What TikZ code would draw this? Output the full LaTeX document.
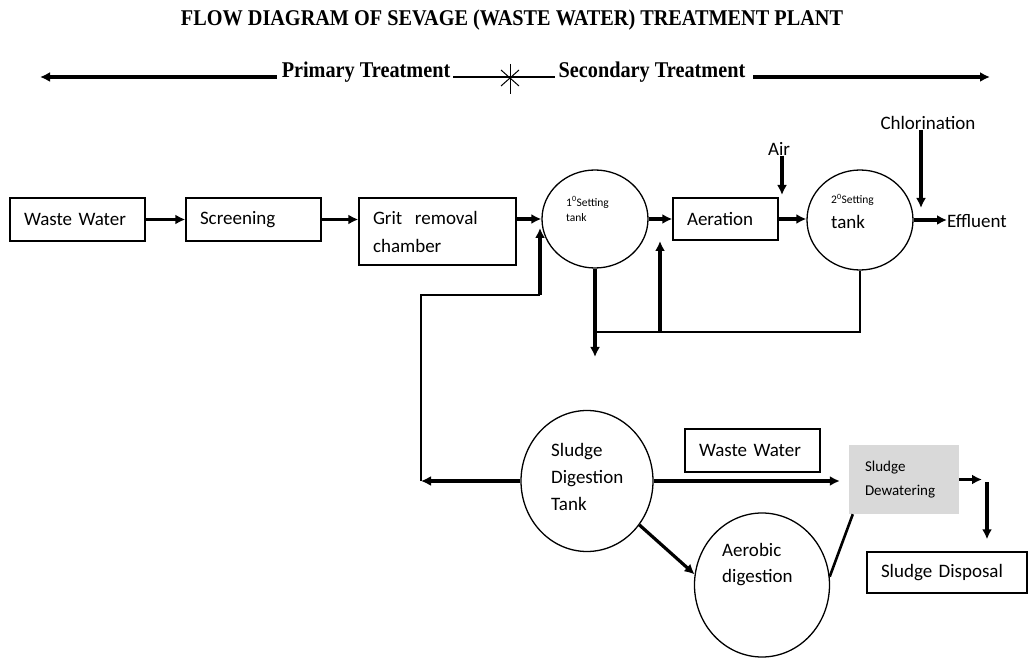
\documentclass[tikz,border=0pt]{standalone}
\usepackage{fontspec}
\setmainfont{Carlito}
\newfontfamily\headfont{Liberation Serif}
\usetikzlibrary{arrows.meta,shapes.geometric,calc}

\begin{document}
\begin{tikzpicture}[x=1pt,y=-1pt,
  lbox/.style={draw, line width=1.4pt, inner xsep=14pt, inner ysep=0pt, align=left,
    font=\fontsize{19}{28}\selectfont},
  tankshape/.style={draw, ellipse, line width=1.3pt, inner sep=0pt},
  txt/.style={inner sep=0pt, align=left, font=\fontsize{19}{27}\selectfont},
  smalltxt/.style={inner sep=0pt, align=left, font=\fontsize{11.5}{15}\selectfont},
  headtext/.style={inner sep=0pt, xscale=0.9, font=\headfont\bfseries\fontsize{22.5}{26}\selectfont},
  flow/.style={line width=3.2pt, -{Latex[length=10pt,width=10pt]}},
  pipe/.style={line width=1.5pt}
]
\useasboundingbox (0,0) rectangle (1029,660);

% heading and treatment stages
\node[headtext] (title) at (512,20) {FLOW DIAGRAM OF SEVAGE (WASTE WATER) TREATMENT PLANT};
\node[headtext] (prim) at (366,72) {Primary Treatment};
\node[headtext] (sec) at (652,72) {Secondary Treatment};
\coordinate (lefttip) at (40,77);
\coordinate (righttip) at (990,77);
\coordinate (star) at (510,79);
\draw[flow, shorten <=5pt] (prim.west |- lefttip) -- (lefttip);
\draw[flow, shorten <=8pt] (sec.east |- righttip) -- (righttip);
\draw[pipe] ($(prim.east |- star)+(3,-2)$) -- ($(sec.west |- star)+(-4,-2)$);
\draw[line width=1pt] (star) ++(0,-15) -- ++(0,30);
\draw[line width=1pt] (star) ++(-9,-9) -- ++(18,16);
\draw[line width=1pt] (star) ++(-9,7) -- ++(18,-16);

% main treatment line
\node[lbox, text width=107pt, minimum height=43pt] (ww) at (77.5,219.5) {Waste Water};
\node[lbox, text width=107pt, minimum height=43pt] (scr) at (253.5,219.5) {Screening};
\node[lbox, text width=129pt, minimum height=67pt] (grit) at (437.5,231.5) {Grit\ \ removal\\chamber};
\node[tankshape, minimum width=106pt, minimum height=98pt] (c1) at (595,219) {};
\node[smalltxt, anchor=west] (c1t) at (566,209) {1\textsuperscript{0}Setting\\tank};
\node[lbox, text width=77pt, minimum height=42pt] (aer) at (725.5,219) {Aeration};
\node[tankshape, minimum width=106pt, minimum height=100pt] (c2) at (860,220) {};
\node[smalltxt, anchor=west] (c2t) at (831,200) {2\textsuperscript{0}Setting};
\node[txt, anchor=west] (c2u) at (831,222) {tank};
\node[txt, anchor=west] (eff) at (947,221) {Effluent};
\node[txt] (air) at (779,149) {Air};
\node[txt] (chl) at (928,123) {Chlorination};

\draw[flow] (ww.east) -- (scr.west);
\draw[flow] (scr.east) -- (scr.east -| grit.west);
\draw[flow] (c1.west -| grit.east) -- (c1.west);
\draw[flow] (c1.east) -- (c1.east -| aer.west);
\draw[flow] (aer.east) -- (aer.east -| c2.west);
\draw[flow] (c2.east) -- (c2.east -| eff.west);
\coordinate (airtip) at (782,195);
\draw[flow] (air.south -| airtip) -- (airtip);
\coordinate (cltip) at (921,208);
\draw[flow] (chl.south -| cltip) -- (cltip);

% sludge withdrawal and return
\coordinate (sludgeout) at (593,357);
\coordinate (rasjoin) at (660,332);
\coordinate (rastip) at (660,241);
\draw[flow] (c1.south) -- (c1.south |- sludgeout);
\draw[pipe] (c2.south) |- ($(c1.south |- rasjoin)+(2,0)$);
\draw[flow] (rasjoin) -- (rastip);

% sludge line
\node[tankshape, minimum width=132pt, minimum height=141pt] (sdt) at (587,481) {};
\node[txt, anchor=west] (sdtt) at (551,477) {Sludge\\Digestion\\Tank};
\node[tankshape, minimum width=135pt, minimum height=144pt] (aero) at (762,585) {};
\node[txt, anchor=west, font=\fontsize{19}{26}\selectfont] (aerot) at (722,565) {Aerobic\\digestion};
\node[lbox, text width=107pt, minimum height=43pt] (ww2) at (752.5,450.5) {Waste Water};
\node[draw=none, fill=black!15, inner xsep=16pt, inner ysep=0pt, text width=78pt,
  minimum height=69pt, align=left, font=\fontsize{15}{24}\selectfont] (dew) at (904,479.5) {Sludge\\Dewatering};
\node[lbox, text width=132pt, minimum height=41pt] (disp) at (947,572.5) {Sludge Disposal};

\coordinate (loopcorner) at (421,481);
\coordinate (loopturn) at (421,295);
\coordinate (loopup) at (540,295);
\coordinate (looptip) at (540,228);
\draw[flow] (sdt.west) -- (loopcorner);
\draw[pipe] (loopcorner) -- (loopturn) -- (loopup);
\draw[flow] (loopup) -- (looptip);
\draw[flow, shorten >=9pt] (sdt.east) -- (sdt.east -| dew.west);
\draw[flow] (sdt.-40) -- (aero.171);
\draw[line width=2.6pt] ($(dew.south west)+(4,0)$) -- (aero.7);
\coordinate (dewtip) at (982,479.5);
\draw[flow] (dew.east) -- (dewtip);
\coordinate (droptop) at (987,482);
\draw[flow, shorten >=12pt] (droptop) -- (droptop |- disp.north);
\end{tikzpicture}
\end{document}
